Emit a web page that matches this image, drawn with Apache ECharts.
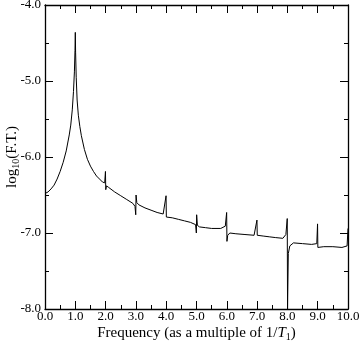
<!DOCTYPE html>
<html>
<head>
<meta charset="utf-8">
<script src="https://cdn.jsdelivr.net/npm/echarts@6/dist/echarts.min.js"></script>
<style>
  html, body { margin: 0; padding: 0; background: #fff; }
  #chart { width: 360px; height: 343px; }
</style>
</head>
<body>
<div id="chart"></div>
<script>
// frequency (multiples of 1/T1) and log10 of the Fourier transform
const freq = [
  0.00, 0.10, 0.20, 0.30, 0.40, 0.50, 0.60, 0.70, 0.80, 0.85, 0.90, 0.94, 0.97, 0.99,
  1.00, 1.01, 1.03, 1.06, 1.10, 1.15, 1.20, 1.30, 1.40, 1.50, 1.60, 1.70, 1.80, 1.90,
  1.97, 1.995, 2.005, 2.03, 2.10, 2.30, 2.50, 2.70, 2.90,
  2.97, 2.995, 3.005, 3.03, 3.10, 3.30, 3.50, 3.70, 3.90,
  3.995, 4.005, 4.03, 4.20, 4.40, 4.60, 4.80,
  4.97, 4.995, 5.005, 5.03, 5.10, 5.30, 5.50, 5.80,
  5.95, 5.995, 6.005, 6.03, 6.10, 6.30, 6.60, 6.90,
  6.995, 7.005, 7.20, 7.40, 7.60, 7.85,
  7.95, 7.995, 8.005, 8.03, 8.08, 8.20, 8.50, 8.80,
  8.97, 8.995, 9.005, 9.04, 9.20, 9.50, 9.80, 9.97, 10.00
];
const logFT = [
  -6.48, -6.46, -6.42, -6.37, -6.29, -6.19, -6.07, -5.92, -5.71, -5.58, -5.38, -5.14, -4.88, -4.60,
  -4.36, -4.62, -4.95, -5.25, -5.45, -5.60, -5.72, -5.90, -6.03, -6.12, -6.19, -6.25, -6.29, -6.33,
  -6.34, -6.19, -6.43, -6.38, -6.40, -6.46, -6.51, -6.56, -6.61,
  -6.65, -6.76, -6.50, -6.60, -6.63, -6.67, -6.70, -6.73, -6.75,
  -6.51, -6.79, -6.77, -6.80, -6.82, -6.84, -6.86,
  -6.89, -7.00, -6.76, -6.90, -6.92, -6.93, -6.94, -6.94,
  -6.91, -6.73, -7.11, -7.03, -7.00, -7.01, -7.02, -7.03,
  -6.83, -7.03, -7.04, -7.05, -7.06, -7.07,
  -7.02, -6.81, -8.00, -7.27, -7.17, -7.13, -7.14, -7.15,
  -7.14, -6.88, -7.19, -7.17, -7.18, -7.18, -7.19, -7.17, -6.94
];

const xRange = [0, 10];
const yRange = [-8, -4];

let myChart = echarts.init(document.getElementById('chart'));
let font = 'Liberation Serif';
let axisColor = '#000';

let points = freq.map((f, i) => [f, logFT[i]]);

// shared axis look, ticks point inward on all four sides
function frameAxis(extra) {
  return Object.assign({
    type: 'value',
    interval: 1,
    nameMoveOverlap: false,
    axisLine: { show: true, onZero: false, lineStyle: { color: axisColor, width: 1.3 } },
    axisTick: { show: true, inside: true, length: 8, lineStyle: { color: axisColor, width: 1 } },
    minorTick: { show: true, splitNumber: 2, length: 4, lineStyle: { color: axisColor, width: 1 } },
    splitLine: { show: false },
    minorSplitLine: { show: false }
  }, extra);
}

let option = {
  animation: false,
  grid: { left: 45, top: 5, width: 303, height: 304, containLabel: false, outerBoundsMode: 'none' },
  xAxis: [
    frameAxis({
      min: xRange[0], max: xRange[1], position: 'bottom',
      axisLabel: { color: '#000', fontFamily: font, fontSize: 13, margin: 1,
        formatter: v => v.toFixed(1) },
      name: 'Frequency (as a multiple of 1/{it|T}{sub|1})',
      nameLocation: 'middle',
      nameGap: 15,
      nameTextStyle: {
        color: '#000', fontFamily: font, fontSize: 15, lineHeight: 18,
        rich: {
          it: { fontFamily: font, fontSize: 15, fontStyle: 'italic', color: '#000', lineHeight: 18 },
          sub: { fontFamily: font, fontSize: 10, color: '#000', verticalAlign: 'bottom', lineHeight: 18, padding: [6, 0, 0, 0] }
        }
      }
    }),
    frameAxis({ min: xRange[0], max: xRange[1], position: 'top', axisLabel: { show: false } })
  ],
  yAxis: [
    frameAxis({
      min: yRange[0], max: yRange[1], position: 'left',
      axisLabel: { color: '#000', fontFamily: font, fontSize: 13, margin: 4,
        formatter: v => v.toFixed(1) },
      name: 'log{sub|10}(F.T.)',
      nameLocation: 'middle',
      nameGap: 24,
      nameTextStyle: {
        color: '#000', fontFamily: font, fontSize: 15, lineHeight: 18,
        rich: {
          sub: { fontFamily: font, fontSize: 10, color: '#000', verticalAlign: 'bottom', lineHeight: 18, padding: [6, 0, 0, 0] }
        }
      }
    }),
    frameAxis({ min: yRange[0], max: yRange[1], position: 'right', axisLabel: { show: false } })
  ],
  series: [{
    name: 'F.T.',
    type: 'line',
    xAxisIndex: 0,
    yAxisIndex: 0,
    showSymbol: false,
    symbol: 'none',
    clip: true,
    lineStyle: { color: '#000', width: 1 },
    data: points
  }]
};

myChart.setOption(option);
</script>
</body>
</html>
